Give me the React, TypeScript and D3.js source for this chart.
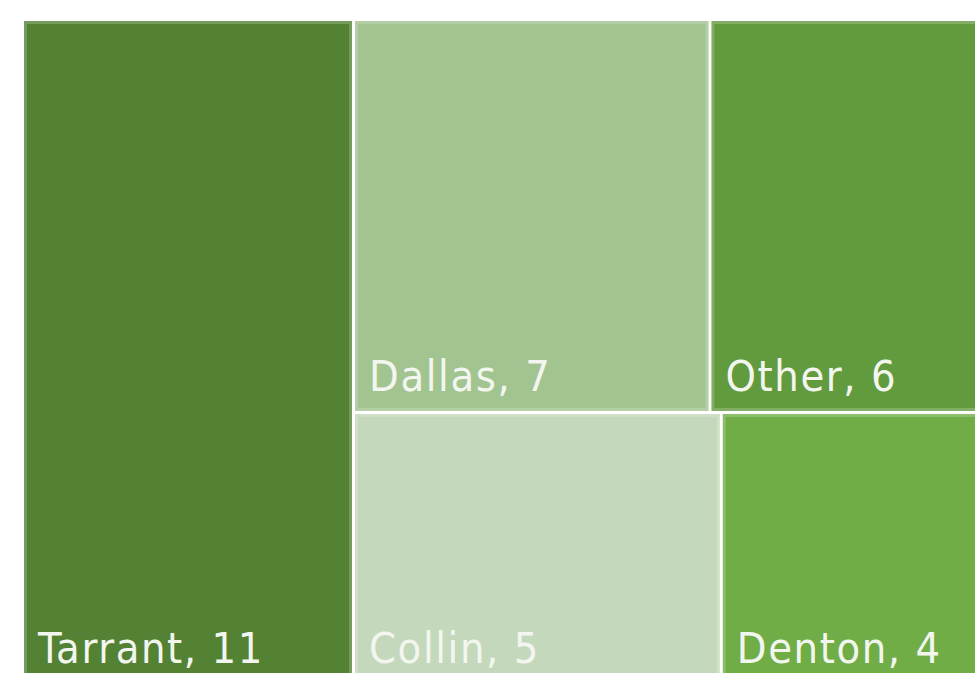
import React from "react";
import * as d3 from "d3";

const names = ["Tarrant", "Dallas", "Other", "Collin", "Denton"];
const values = [11, 7, 6, 5, 4];
const colors = ["#548235", "#A2C490", "#629A3E", "#C4D8BB", "#70AD47"];

const W = 975;
const H = 673;
const margin = { left: 24, top: 21, right: -39, bottom: -10 };

export default function App() {
  const data = {
    name: "root",
    children: names.map((n, i) => ({ name: n, value: values[i], color: colors[i] })),
  };
  const root = d3
    .hierarchy<any>(data)
    .sum((d: any) => d.value || 0)
    .sort((a, b) => (b.value || 0) - (a.value || 0));
  d3
    .treemap<any>()
    .tile(d3.treemapSquarify.ratio(1))
    .size([W - margin.left - margin.right, H - margin.top - margin.bottom])
    .paddingInner(3)(root);
  const leaves = root.leaves() as any[];
  return (
    <div style={{ position: "fixed", left: 0, top: 0 }}>
      <svg width={W} height={H} style={{ display: "block", background: "#fff" }}>
        <g transform={`translate(${margin.left},${margin.top})`}>
          {leaves.map((l) => (
            <g key={l.data.name}>
              <rect x={l.x0} y={l.y0} width={l.x1 - l.x0} height={l.y1 - l.y0} fill={l.data.color} />
              <rect
                x={l.x0 + 1.5}
                y={l.y0 + 1.5}
                width={l.x1 - l.x0 - 3}
                height={l.y1 - l.y0 - 3}
                fill="none"
                stroke="#fff"
                strokeOpacity={0.2}
                strokeWidth={3}
              />
              <text
                x={l.x0 + 14}
                y={l.y1 - 20}
                fill="#F2F6EF"
                fontFamily="'Liberation Sans Narrow', 'DejaVu Sans Condensed', sans-serif"
                fontSize={43}
                letterSpacing={1.6}
              >
                {`${l.data.name}, ${l.data.value}`}
              </text>
            </g>
          ))}
        </g>
      </svg>
    </div>
  );
}
